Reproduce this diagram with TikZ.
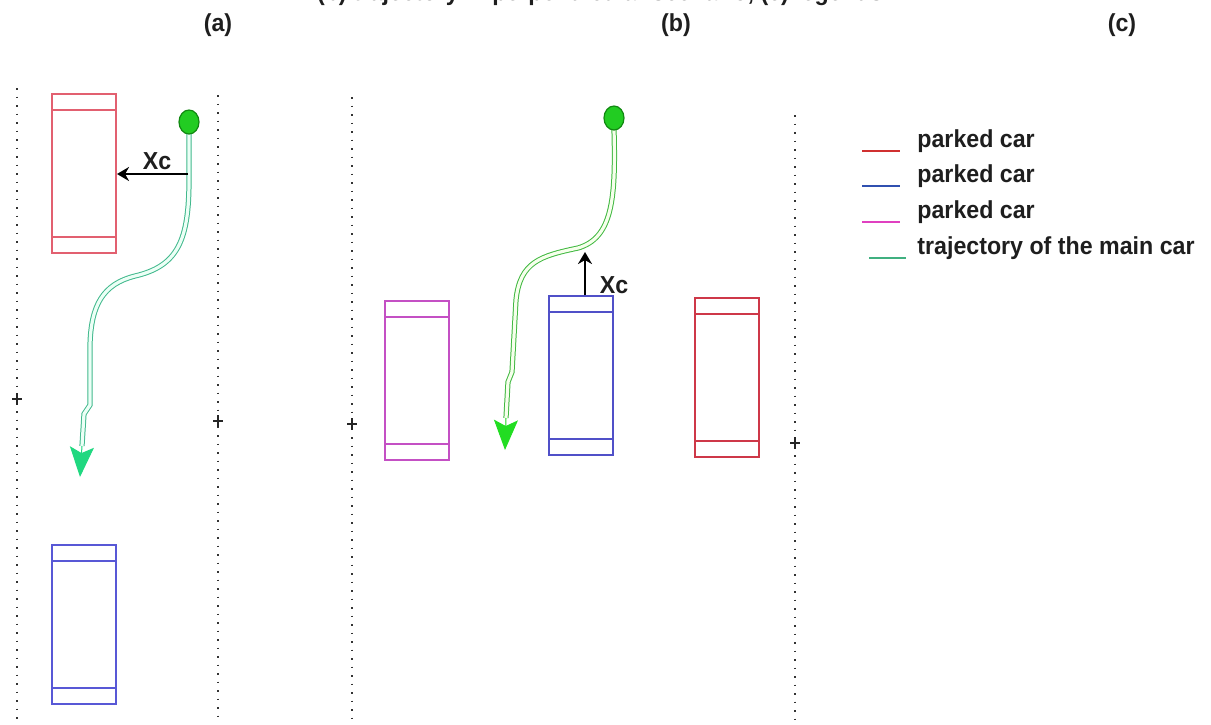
\documentclass[tikz,border=0pt]{standalone}
\usepackage{fontspec}
\setmainfont{Liberation Sans}
\usepackage{graphicx}
\usetikzlibrary{arrows.meta,shapes.geometric}

\definecolor{inkgray}{RGB}{30,30,30}
\definecolor{carredA}{RGB}{226,96,112}
\definecolor{carblueA}{RGB}{88,88,214}
\definecolor{carmag}{RGB}{196,80,196}
\definecolor{carblueB}{RGB}{80,80,200}
\definecolor{carredB}{RGB}{206,56,72}
\definecolor{trajA}{RGB}{64,184,140}
\definecolor{trajAin}{RGB}{236,255,246}
\definecolor{headA}{RGB}{32,216,128}
\definecolor{trajB}{RGB}{64,184,64}
\definecolor{trajBin}{RGB}{246,255,236}
\definecolor{headB}{RGB}{34,221,34}
\definecolor{dotfill}{RGB}{34,204,34}
\definecolor{dotrim}{RGB}{17,136,17}
\definecolor{legred}{RGB}{208,48,48}
\definecolor{legblue}{RGB}{48,80,176}
\definecolor{legmag}{RGB}{224,64,192}
\definecolor{legteal}{RGB}{64,176,128}

% text is drawn slightly taller than wide
\newcommand{\tallbox}[1]{\scalebox{1}[1.06]{#1}}

\begin{document}
\begin{tikzpicture}[x=0.5pt,y=-0.5pt,
  txt/.style={font=\fontsize{11.6}{13}\selectfont\bfseries, text=inkgray, inner sep=0pt},
  car/.style={draw=#1, line width=1pt, minimum width=32pt, minimum height=79.5pt,
    inner sep=0pt, fill=white,
    path picture={\draw[#1, line width=1pt]
      ([yshift=-8pt]path picture bounding box.north west) -- ([yshift=-8pt]path picture bounding box.north east)
      ([yshift=8pt]path picture bounding box.south west) -- ([yshift=8pt]path picture bounding box.south east);}},
  lane/.style={draw=black!80, line width=0.75pt, dash pattern=on 0.75pt off 3.5pt},
  plusmark/.style={draw=black!85, line width=0.9pt},
  startdot/.style={ellipse, draw=dotrim, fill=dotfill, line width=0.6pt,
    minimum width=10pt, minimum height=12pt, inner sep=0pt},
  pathA/.style={draw=trajA, line width=0.5pt, double=trajAin, double distance=1.6pt},
  pathB/.style={draw=trajB, line width=0.5pt, double=trajBin, double distance=1.6pt},
  tipA/.style={draw=headA, fill=headA, line width=0.5pt, -{Stealth[length=15pt,width=12pt,inset=3pt]}},
  tipB/.style={draw=headB, fill=headB, line width=0.5pt, -{Stealth[length=15pt,width=12pt,inset=3pt]}},
  xarrow/.style={draw=black, line width=1pt, -{Stealth[length=6pt,width=7pt]}},
  legline/.style={draw=#1, line width=1.4pt}
]
\useasboundingbox (0,0) rectangle (1211,724);

% caption line (runs off the top edge) and panel labels
\node[txt, anchor=base] (title) at (600,0.5) {\tallbox{(b) trajectory in perpendicular scenario, (c) legends}};
\node[txt, anchor=base] (labA) at (218,31) {\tallbox{(a)}};
\node[txt, anchor=base] (labB) at (676,31) {\tallbox{(b)}};
\node[txt, anchor=base] (labC) at (1122,31) {\tallbox{(c)}};

% ---------------- panel (a) ----------------
\coordinate (laneA1t) at (17,88);   \coordinate (laneA1b) at (17,724);
\coordinate (laneA2t) at (218,95);  \coordinate (laneA2b) at (218,724);
\draw[lane] (laneA1t) -- (laneA1b);
\draw[lane] (laneA2t) -- (laneA2b);
\draw[plusmark] (17,399) +(-5,0) -- +(5,0) +(0,-6) -- +(0,6);
\draw[plusmark] (218,421) +(-5,0) -- +(5,0) +(0,-6) -- +(0,6);

\node[car=carredA] (redA) at (84,173.5) {};
\node[car=carblueA] (blueA) at (84,624.5) {};

\coordinate (preA) at (82,446);
\coordinate (endA) at (80,477);
\draw[pathA] (189,134) -- (189,180)
  .. controls (189,240) and (178,266) .. (135,276)
  .. controls (103,284) and (91,305) .. (90,345)
  -- (90,405) -- (84,414) -- (preA);
\draw[tipA] (preA) -- (endA);
\node[startdot] (startA) at (189,122) {};

\coordinate (xa) at (188,174);
\draw[xarrow] (xa) -- (xa -| redA.east);
\node[txt, anchor=base] (xcA) at (157,169) {\tallbox{Xc}};

% ---------------- panel (b) ----------------
\coordinate (laneB1t) at (352,97);  \coordinate (laneB1b) at (352,724);
\coordinate (laneB2t) at (795,115); \coordinate (laneB2b) at (795,724);
\draw[lane] (laneB1t) -- (laneB1b);
\draw[lane] (laneB2t) -- (laneB2b);
\draw[plusmark] (352,424) +(-5,0) -- +(5,0) +(0,-6) -- +(0,6);
\draw[plusmark] (795,443) +(-5,0) -- +(5,0) +(0,-6) -- +(0,6);

\node[car=carmag] (magB) at (417,380.5) {};
\node[car=carblueB] (blueB) at (581,375.5) {};
\node[car=carredB] (redB) at (727,377.5) {};

\coordinate (preB) at (506,418);
\coordinate (endB) at (505,450);
\draw[pathB] (614,130)
  .. controls (616,200) and (612,238) .. (578,248)
  .. controls (540,256) and (520,262) .. (516,300)
  -- (512,372) -- (508,382) -- (preB);
\draw[tipB] (preB) -- (endB);
\node[startdot] (startB) at (614,118) {};

\coordinate (xb) at (585,252);
\draw[xarrow] (xb |- blueB.north) -- (xb);
\node[txt, anchor=base] (xcB) at (614,293) {\tallbox{Xc}};

% ---------------- legend (c) ----------------
\coordinate (l1a) at (862,151); \coordinate (l1b) at (900,151);
\coordinate (l2a) at (862,186); \coordinate (l2b) at (900,186);
\coordinate (l3a) at (862,222); \coordinate (l3b) at (900,222);
\coordinate (l4a) at (869,258); \coordinate (l4b) at (906,258);
\draw[legline=legred] (l1a) -- (l1b);
\draw[legline=legblue] (l2a) -- (l2b);
\draw[legline=legmag] (l3a) -- (l3b);
\draw[legline=legteal] (l4a) -- (l4b);
\node[txt, anchor=base west] (leg1) at (917,147) {\tallbox{parked car}};
\node[txt, anchor=base west] (leg2) at (917,182) {\tallbox{parked car}};
\node[txt, anchor=base west] (leg3) at (917,218) {\tallbox{parked car}};
\node[txt, anchor=base west] (leg4) at (917,254) {\tallbox{trajectory of the main car}};
\end{tikzpicture}
\end{document}
